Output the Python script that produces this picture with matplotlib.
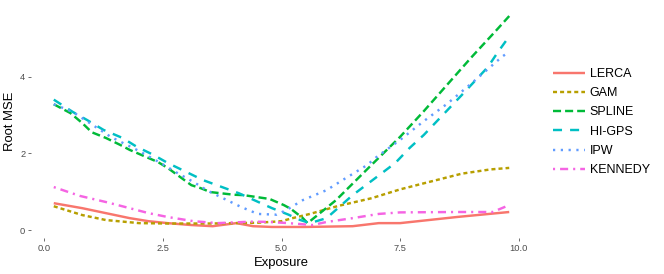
import matplotlib
matplotlib.use("Agg")
import matplotlib.pyplot as plt

plt.rcParams['font.family'] = ['Liberation Sans', 'DejaVu Sans']
plt.rcParams['lines.scale_dashes'] = False

methods = ["LERCA", "GAM", "SPLINE", "HI-GPS", "IPW", "KENNEDY"]

x_lerca = [0.2, 0.8, 1.3, 1.8, 2.2, 2.6, 3.1, 3.55, 4.05, 4.4, 4.8, 5.5, 6.5, 7.05, 7.5, 8.7, 9.8]
y_lerca = [0.70, 0.57, 0.44, 0.31, 0.23, 0.18, 0.13, 0.10, 0.18, 0.10, 0.08, 0.08, 0.10, 0.18, 0.18, 0.34, 0.47]

x_gam = [0.2, 0.8, 1.3, 2.0, 2.6, 3.5, 4.5, 5.0, 5.2, 5.6, 6.2, 6.9, 7.5, 8.1, 8.8, 9.4, 9.8]
y_gam = [0.62, 0.39, 0.26, 0.18, 0.17, 0.17, 0.19, 0.23, 0.30, 0.42, 0.63, 0.83, 1.06, 1.25, 1.47, 1.58, 1.62]

x_spline = [0.2, 0.55, 0.8, 1.0, 1.3, 1.6, 1.8, 2.1, 2.4, 2.6, 3.1, 3.3, 3.5, 4.0, 4.2, 4.75,
            5.05, 5.2, 5.45, 5.55, 6.15, 6.85, 7.5, 8.0, 8.5, 9.0, 9.5, 9.8]
y_spline = [3.28, 3.05, 2.79, 2.55, 2.40, 2.22, 2.09, 1.93, 1.77, 1.62, 1.17, 1.09, 0.99, 0.92, 0.91, 0.81,
            0.65, 0.55, 0.31, 0.18, 0.78, 1.64, 2.43, 3.10, 3.80, 4.50, 5.17, 5.58]

x_higps = [0.2, 0.6, 0.9, 1.25, 1.65, 1.95, 2.3, 2.6, 3.35, 4.1, 4.8, 5.15, 5.35, 5.6, 5.95, 6.5,
           7.4, 7.7, 8.0, 8.5, 8.8, 9.35, 9.55, 9.8]
y_higps = [3.40, 3.08, 2.87, 2.61, 2.40, 2.17, 1.96, 1.75, 1.30, 0.96, 0.57, 0.40, 0.28, 0.18, 0.31, 0.91,
           1.75, 2.14, 2.48, 3.13, 3.52, 4.25, 4.62, 5.05]

x_ipw = [0.2, 0.6, 1.4, 1.95, 2.45, 2.8, 3.15, 3.45, 3.8, 4.15, 4.5, 4.9, 5.1, 5.45, 5.95, 6.35,
         6.8, 7.0, 7.5, 8.0, 8.5, 9.0, 9.4, 9.65, 9.8]
y_ipw = [3.28, 3.08, 2.43, 2.09, 1.75, 1.49, 1.25, 1.02, 0.81, 0.60, 0.42, 0.40, 0.52, 0.78, 1.04, 1.35,
         1.69, 1.90, 2.35, 2.84, 3.30, 3.82, 4.25, 4.52, 4.65]

x_kennedy = [0.2, 0.75, 1.3, 1.8, 2.2, 2.6, 2.85, 3.15, 3.65, 4.4, 4.75, 5.15, 5.65, 5.95, 6.5,
             7.05, 7.5, 8.7, 9.45, 9.8]
y_kennedy = [1.12, 0.89, 0.73, 0.57, 0.44, 0.34, 0.29, 0.23, 0.18, 0.22, 0.21, 0.18, 0.13, 0.21, 0.31,
             0.42, 0.46, 0.47, 0.47, 0.65]

x_ticks = [0.0, 2.5, 5.0, 7.5, 10.0]
x_ticklabels = ["0.0", "2.5", "5.0", "7.5", "10.0"]
y_ticks = [0, 2, 4]
y_ticklabels = ["0", "2", "4"]

colors = ["#F8766D", "#B79F00", "#00BA38", "#00BFC4", "#619CFF", "#F564E3"]
dashes = [None, (2.9, 2.2), (5.8, 2.9), (6.5, 5.8), (1.6, 4.0), (1.5, 3.6, 5.8, 3.6)]

series = [(x_lerca, y_lerca), (x_gam, y_gam), (x_spline, y_spline),
          (x_higps, y_higps), (x_ipw, y_ipw), (x_kennedy, y_kennedy)]

fig = plt.figure(figsize=(6.64, 2.74), dpi=100)
ax = fig.add_axes([31 / 664, 36.3 / 274, 501 / 664, 232.4 / 274])

handles = []
for (xs, ys), name, c, d in zip(series, methods, colors, dashes):
    kw = dict(color=c, lw=1.75, solid_capstyle='butt', dash_capstyle='butt', label=name)
    if d is not None:
        kw['dashes'] = d
    h, = ax.plot(xs, ys, **kw)
    handles.append(h)

ax.set_xlim(-0.28, 10.28)
ax.set_ylim(-0.2, 5.86)
ax.set_xticks(x_ticks)
ax.set_xticklabels(x_ticklabels)
ax.set_yticks(y_ticks)
ax.set_yticklabels(y_ticklabels)
ax.tick_params(axis='both', colors='#333333', labelcolor='#4D4D4D', labelsize=6.7,
               length=2.2, width=0.5, pad=2)
for s in ax.spines.values():
    s.set_visible(False)
ax.set_xlabel("Exposure", fontsize=9.4, color='black', labelpad=3)
ax.set_ylabel("Root MSE", fontsize=9.4, color='black', labelpad=3)

fig.legend(handles=handles, labels=methods, loc='center left',
           bbox_to_anchor=(553 / 664, 1 - 122 / 274), frameon=False,
           fontsize=9, handlelength=2.55, handletextpad=0.4, labelspacing=0.58,
           borderpad=0, borderaxespad=0)

fig.savefig("out.png", dpi=100, facecolor='white')
